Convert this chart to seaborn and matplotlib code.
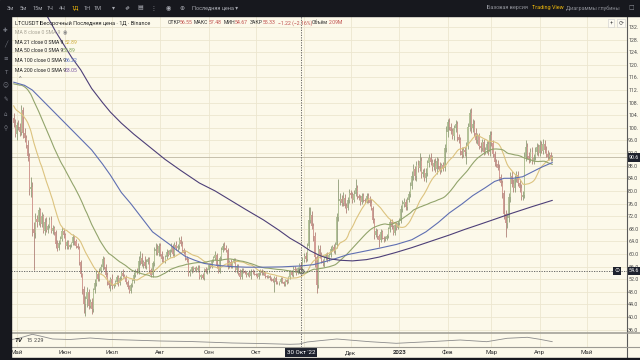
import matplotlib
matplotlib.use("Agg")
import matplotlib.pyplot as plt
import matplotlib.transforms as mtransforms
from matplotlib.patches import Rectangle
from matplotlib.lines import Line2D
import numpy as np
import pandas as pd
import seaborn as sns

# ---------------- data ----------------
# closes before the visible window (11 Mar - 28 Apr 2022), only used for MA 21 / MA 50
prior_closes = [104, 105, 106, 104, 106, 109, 112, 114, 116, 117, 118, 121, 124, 123, 125, 126, 127, 130, 128, 126, 124,
                127, 128, 127, 130, 126, 116, 117, 115, 117, 113, 107, 108, 112, 109, 111, 110, 109, 106, 110, 109, 107,
                105, 104, 104, 104, 97, 101, 103]

# daily candles: (close, upper wick, lower wick)
apr_2022 = [(101.5, 1.6, 1.2), (98.0, 1.4, 0.9)]
may_2022 = [(101.0, 1.0, 2.0), (100.2, 1.5, 1.0), (98.6, 1.3, 1.1), (105.8, 1.4, 1.0), (98.3, 0.8, 1.5),
            (96.7, 1.6, 1.2), (94.6, 1.1, 0.9), (91.2, 1.4, 1.6), (80.5, 0.9, 1.8), (81.3, 3.2, 2.5),
            (68.0, 1.5, 2.2), (66.8, 2.1, 11.8), (71.2, 1.8, 1.6), (70.1, 1.2, 1.4), (73.8, 1.1, 1.0),
            (69.6, 0.8, 1.2), (71.9, 1.3, 0.9), (67.3, 0.9, 0.8), (70.2, 1.1, 1.3), (67.6, 1.5, 0.7),
            (68.8, 0.6, 0.8), (70.9, 0.9, 0.5), (67.4, 1.2, 0.6), (68.3, 0.8, 1.0), (66.9, 0.7, 0.9),
            (63.2, 0.6, 1.3), (62.0, 1.1, 1.2), (63.6, 0.7, 0.6), (64.8, 0.9, 0.5), (67.2, 1.2, 0.8),
            (65.9, 1.0, 0.9)]
jun_2022 = [(62.4, 0.8, 0.7), (63.8, 0.6, 0.9), (62.1, 0.7, 0.5), (62.9, 0.4, 0.6), (63.4, 0.5, 0.6),
            (65.3, 1.1, 0.5), (64.1, 0.7, 1.4), (62.6, 0.6, 0.8), (62.0, 0.9, 0.5), (57.4, 0.6, 0.9),
            (53.6, 0.7, 0.8), (48.9, 0.5, 1.6), (44.2, 0.9, 2.8), (45.6, 1.2, 4.0), (48.0, 1.5, 2.4),
            (43.5, 0.8, 0.9), (44.9, 0.9, 0.7), (42.5, 1.1, 1.4), (48.6, 0.7, 0.8), (50.8, 1.3, 1.1),
            (53.7, 1.2, 0.9), (52.1, 0.8, 0.6), (54.6, 0.9, 0.7), (55.9, 1.0, 0.8), (58.3, 1.2, 0.9),
            (55.8, 0.8, 0.7), (53.2, 1.0, 0.6), (51.0, 1.1, 0.8), (50.1, 0.6, 0.9), (52.2, 0.5, 1.7)]
jul_2022 = [(49.7, 1.3, 0.8), (50.3, 0.6, 0.5), (51.2, 0.5, 0.6), (52.6, 0.7, 0.8), (50.8, 0.8, 0.9),
            (52.4, 0.6, 0.7), (53.8, 0.7, 0.6), (53.1, 1.4, 0.5), (52.7, 0.6, 0.4), (51.2, 0.5, 0.6),
            (49.6, 0.6, 0.8), (48.4, 0.5, 0.7), (50.0, 0.9, 0.8), (51.3, 0.7, 0.6), (53.4, 0.8, 0.5),
            (54.6, 0.6, 0.7), (54.2, 0.9, 0.6), (57.9, 1.4, 0.7), (58.6, 2.2, 1.3), (56.8, 1.8, 0.6),
            (57.4, 0.8, 1.1), (56.2, 1.9, 0.5), (57.6, 0.7, 0.9), (58.5, 0.6, 0.7), (54.8, 0.5, 0.8),
            (53.3, 0.7, 0.6), (57.0, 0.8, 0.5), (60.9, 1.3, 0.9), (61.6, 1.9, 1.1), (60.2, 1.4, 0.6),
            (62.5, 1.0, 0.8)]
aug_2022 = [(60.1, 0.9, 0.7), (58.4, 0.8, 0.9), (57.8, 1.1, 0.5), (58.9, 0.7, 0.6), (60.7, 0.9, 0.5),
            (59.8, 0.6, 0.4), (61.2, 0.5, 0.8), (62.4, 1.2, 0.6), (60.1, 0.6, 0.7), (62.9, 0.8, 1.0),
            (61.8, 1.3, 0.5), (62.5, 0.7, 0.9), (64.3, 1.0, 0.8), (63.1, 1.5, 0.6), (61.2, 1.1, 0.7),
            (60.4, 0.7, 0.5), (58.7, 1.0, 0.6), (58.1, 0.6, 0.8), (53.9, 0.5, 1.0), (54.7, 0.6, 0.9),
            (55.8, 0.5, 0.6), (55.2, 0.4, 0.8), (55.4, 0.6, 0.5), (54.8, 0.7, 0.4), (55.6, 0.8, 0.5),
            (52.6, 0.9, 0.6), (53.2, 0.5, 0.7), (52.4, 0.6, 0.5), (55.1, 0.4, 0.6), (54.3, 0.8, 0.5),
            (54.8, 0.7, 0.6)]
sep_2022 = [(56.4, 0.6, 0.7), (56.0, 0.8, 0.4), (57.8, 0.5, 0.6), (58.6, 0.7, 0.5), (59.8, 1.1, 0.6),
            (56.2, 0.5, 0.8), (54.5, 0.6, 0.7), (58.6, 0.9, 0.5), (61.3, 1.0, 0.6), (62.4, 1.2, 0.8),
            (62.0, 1.4, 0.7), (61.1, 0.8, 0.6), (56.2, 0.7, 0.9), (57.5, 0.6, 0.7), (56.0, 0.8, 0.5),
            (57.4, 0.5, 0.6), (58.1, 0.6, 0.4), (55.0, 0.5, 0.7), (56.2, 0.6, 1.1), (53.9, 0.7, 0.5),
            (52.8, 1.3, 0.8), (54.9, 0.5, 0.6), (54.6, 0.6, 0.5), (54.0, 0.4, 0.4), (53.4, 0.5, 0.6),
            (53.9, 0.4, 0.5), (53.1, 1.1, 0.4), (54.6, 0.6, 0.9), (54.2, 0.5, 0.5), (53.7, 0.6, 0.4)]
oct_2022 = [(53.4, 0.4, 0.3), (52.7, 0.5, 0.4), (53.8, 0.4, 0.6), (54.6, 0.5, 0.4), (53.8, 0.6, 0.5),
            (54.2, 0.7, 0.4), (53.0, 0.4, 0.5), (52.7, 0.3, 0.4), (52.9, 0.4, 0.3), (52.4, 0.5, 0.6),
            (52.0, 0.4, 0.5), (51.5, 0.5, 0.4), (52.3, 0.6, 3.5), (51.0, 0.7, 0.5), (50.7, 0.4, 0.3),
            (51.2, 0.3, 0.4), (52.2, 0.4, 0.3), (51.1, 0.5, 0.4), (50.4, 0.4, 0.5), (51.6, 0.3, 0.6),
            (51.2, 0.5, 0.7), (52.6, 0.4, 0.3), (54.3, 0.5, 0.4), (53.4, 0.6, 0.5), (55.3, 0.9, 0.6),
            (54.8, 0.8, 0.5), (54.1, 0.6, 0.7), (55.4, 0.5, 0.6), (56.55, 0.7, 0.5), (55.33, 0.93, 0.66),
            (58.2, 0.9, 0.6)]
nov_2022 = [(59.4, 0.8, 0.7), (58.3, 1.2, 0.9), (62.6, 0.9, 0.6), (70.9, 4.1, 0.8), (72.4, 2.5, 1.2),
            (68.8, 1.3, 0.9), (65.6, 1.1, 1.4), (58.9, 1.5, 3.0), (50.2, 0.9, 2.6), (61.5, 1.2, 1.1),
            (59.8, 1.4, 1.0), (57.9, 0.9, 0.7), (57.2, 0.6, 0.9), (58.6, 0.9, 1.3), (59.7, 0.7, 0.6),
            (58.3, 0.8, 0.7), (59.6, 0.6, 0.5), (61.6, 0.9, 0.6), (62.2, 0.7, 0.8), (61.0, 0.8, 0.6),
            (62.8, 1.1, 0.9), (71.6, 1.4, 0.8), (76.8, 7.0, 1.1), (77.4, 1.8, 1.3), (76.2, 1.2, 1.0),
            (77.9, 1.6, 0.9), (75.3, 1.1, 0.8), (74.6, 0.9, 1.5), (77.2, 1.0, 0.7), (79.2, 1.3, 0.9)]
dec_2022 = [(78.6, 1.1, 0.8), (77.2, 0.9, 1.0), (79.0, 1.2, 0.6), (80.9, 3.0, 0.7), (78.3, 1.1, 0.9),
            (77.9, 0.8, 0.7), (76.4, 0.9, 1.0), (78.5, 0.7, 0.6), (77.1, 0.9, 0.5), (76.8, 0.6, 0.7),
            (78.4, 0.8, 0.5), (77.0, 0.9, 0.8), (76.2, 1.5, 0.9), (74.6, 1.2, 0.8), (70.8, 0.6, 0.9),
            (66.0, 0.7, 1.2), (67.3, 0.8, 0.6), (65.6, 0.7, 0.9), (64.3, 0.6, 2.0), (66.9, 0.9, 0.5),
            (65.2, 0.6, 0.6), (64.6, 0.5, 0.8), (64.9, 0.7, 0.4), (65.7, 0.6, 0.5), (67.8, 0.8, 0.6),
            (70.1, 1.0, 0.7), (68.4, 0.9, 0.6), (66.7, 0.7, 0.8), (69.2, 0.8, 0.6), (68.3, 0.9, 0.7),
            (69.8, 0.6, 0.5)]
jan_2023 = [(70.6, 0.8, 0.6), (74.3, 1.1, 0.7), (75.8, 1.3, 0.9), (76.4, 1.2, 1.0), (74.8, 0.9, 0.8),
            (77.2, 1.0, 0.7), (78.9, 1.2, 0.6), (81.4, 1.4, 0.8), (84.8, 1.6, 0.9), (86.9, 1.5, 1.2),
            (84.6, 1.1, 1.0), (88.3, 1.3, 1.4), (87.2, 1.6, 1.1), (89.4, 2.6, 1.0), (85.3, 1.2, 1.3),
            (86.0, 1.0, 0.9), (84.2, 1.3, 1.1), (85.6, 1.8, 1.5), (88.7, 1.2, 0.9), (90.4, 1.3, 1.0),
            (89.1, 1.5, 0.8), (87.6, 1.0, 1.2), (88.9, 1.1, 0.9), (86.8, 1.4, 0.7), (89.5, 1.2, 1.3),
            (87.9, 1.0, 0.8), (86.6, 1.3, 1.1), (88.1, 0.9, 0.7), (87.2, 1.2, 0.8), (93.6, 1.4, 1.0),
            (98.7, 1.8, 1.2)]
feb_2023 = [(101.8, 0.9, 1.5), (100.4, 1.4, 1.2), (98.9, 1.3, 1.0), (97.3, 1.1, 0.9), (99.8, 1.2, 1.0),
            (101.2, 1.4, 1.1), (97.0, 1.0, 1.3), (96.1, 1.2, 1.0), (92.8, 1.0, 1.4), (91.5, 1.1, 1.2),
            (93.0, 0.9, 0.8), (92.2, 0.8, 1.0), (94.3, 1.1, 3.7), (100.2, 1.5, 1.0), (104.6, 1.3, 1.2),
            (99.8, 1.8, 1.4), (101.2, 1.6, 1.1), (98.4, 1.2, 0.9), (96.1, 1.4, 1.0), (97.3, 1.0, 1.3),
            (94.2, 1.1, 1.0), (93.5, 1.3, 1.2), (95.4, 1.0, 0.9), (92.4, 1.2, 1.1), (93.1, 0.9, 0.8),
            (94.8, 1.1, 1.0), (92.2, 1.0, 0.9), (97.6, 1.4, 1.2)]
mar_2023 = [(95.2, 1.3, 1.1), (91.8, 1.1, 1.2), (89.1, 1.0, 1.3), (88.6, 0.9, 1.0), (87.4, 1.1, 0.9),
            (84.3, 1.0, 1.2), (82.5, 1.2, 1.0), (79.3, 0.9, 1.4), (72.6, 1.1, 1.6), (69.8, 1.4, 4.4),
            (71.4, 1.6, 1.5), (78.0, 1.2, 1.3), (84.6, 1.3, 1.5), (82.3, 1.6, 1.2), (80.8, 1.4, 1.3),
            (83.9, 1.2, 1.0), (84.9, 1.5, 1.1), (82.6, 1.3, 1.0), (80.9, 1.1, 1.2), (78.2, 1.2, 1.0),
            (78.6, 1.5, 1.1), (90.8, 1.6, 1.0), (93.9, 2.1, 1.4), (91.2, 1.3, 1.2), (90.1, 1.0, 1.1),
            (92.4, 1.2, 0.9), (89.6, 1.4, 1.2), (90.8, 1.0, 1.1), (92.5, 1.3, 1.0), (93.8, 1.5, 1.2),
            (92.1, 1.2, 1.0)]
apr_2023 = [(94.6, 1.4, 1.1), (92.8, 1.1, 0.9), (94.9, 1.5, 1.0), (93.1, 1.2, 1.1), (91.8, 1.0, 0.9),
            (90.7, 1.1, 0.8), (91.5, 0.9, 0.8), (90.2, 1.0, 0.7), (90.6, 0.8, 0.6)]
first_day = -2  # 29 Apr 2022, day 0 = 1 May 2022

# MA 100 / MA 200 (day, value)
ma100_day = [-2, 5, 10, 15, 20, 25, 30, 35, 40, 48, 55, 60, 67, 73, 80, 87, 93, 98, 103, 108, 114, 120, 128,
             137, 147, 158, 170, 182, 190, 197, 204, 212, 222, 232, 243, 253, 262, 270, 277, 285, 292, 300,
             306, 312, 318, 324, 330, 336, 343]
ma100_val = [114.5, 113.5, 112.0, 109.5, 107.0, 104.5, 102.0, 99.5, 97.0, 93.0, 88.5, 85.0, 79.5, 76.0, 71.5,
             67.0, 64.8, 63.0, 61.0, 59.2, 58.0, 57.0, 56.4, 56.0, 55.8, 55.8, 55.9, 56.2, 56.6, 57.5, 58.5,
             59.8, 60.8, 61.8, 63.0, 64.5, 67.0, 70.0, 73.0, 75.8, 78.5, 81.0, 83.0, 84.0, 84.0, 84.5, 86.0,
             87.5, 89.0]
ma200_day = [-2, 5, 10, 15, 20, 25, 30, 35, 41, 48, 55, 60, 67, 75, 85, 95, 105, 117, 127, 137, 147, 158, 168,
             175, 182, 188, 194, 200, 207, 215, 224, 232, 243, 253, 265, 277, 287, 296, 306, 317, 330, 343]
ma200_val = [152, 147, 143.5, 139, 135, 130.5, 126.5, 122.5, 118.4, 112.5, 108, 105, 101.5, 98, 94, 90, 86.5,
             82.5, 80, 77, 74, 70.8, 67.5, 65, 63.0, 61.0, 59.5, 58.5, 58.0, 57.8, 58.2, 59.0, 60.5, 62.0,
             64.0, 66.0, 67.8, 69.3, 71.0, 72.9, 75.0, 77.0]

# lower pane oscillator (day, value)
osc_day = [-3, 2, 10, 15, 23, 34, 47, 60, 72, 92, 111, 138, 156, 175, 181, 186, 194, 205, 226, 243, 269, 284,
           301, 314, 327, 335, 343]
osc_val = [7.5, 9, 12.7, 11, 8, 7.5, 9, 7.5, 7, 6, 5.5, 4, 3.5, 2.7, 3, 5, 6.3, 8, 5.3, 3.7, 5.7, 7, 5.3,
           8.7, 9.7, 7.7, 5.3]

price_ticks = list(range(36, 133, 4))
# price scale labels as far as they are visible at the right edge of the screenshot
price_tick_text = [f"{v:.2f}"[:4] for v in price_ticks]
month_day = [0, 31, 61, 92, 123, 153, 214, 245, 276, 304, 335, 365]
month_lab = ["Май", "Июн", "Июл", "Авг", "Сен", "Окт", "Дек", "2023", "Фев", "Мар", "Апр", "Май"]
grid_day = [0, 31, 61, 92, 123, 153, 184, 214, 245, 276, 304, 335, 365]

# ---------------- build frame ----------------
rows = [r for m in (apr_2022, may_2022, jun_2022, jul_2022, aug_2022, sep_2022, oct_2022, nov_2022,
                    dec_2022, jan_2023, feb_2023, mar_2023, apr_2023) for r in m]
close = np.array([r[0] for r in rows])
wup = np.array([r[1] for r in rows])
wdn = np.array([r[2] for r in rows])
day = np.arange(first_day, first_day + len(close))
open_ = np.concatenate([[prior_closes[-1]], close[:-1]])
high = np.maximum(open_, close) + wup
low = np.minimum(open_, close) - wdn
allc = pd.Series(np.concatenate([prior_closes, close]))
ma21 = allc.rolling(21).mean().values[len(prior_closes):]
ma50 = allc.rolling(50).mean().values[len(prior_closes):]
df = pd.DataFrame(dict(day=day, open=open_, close=close, high=high, low=low, ma21=ma21, ma50=ma50))

# ---------------- style ----------------
W, H = 640, 360
BG = "#fcf9ea"
GRID = "#ece6cf"
DARK = "#17181e"
UP, DOWN = "#b3c297", "#d39d95"
UPW, DOWNW = "#84936d", "#a9776f"
C21, C50, C100, C200 = "#dcc37f", "#92a46c", "#5f6fb2", "#4d3f78"

sns.set_theme(style="white")
plt.rcParams["font.family"] = ["Roboto", "DejaVu Sans"]

fig = plt.figure(figsize=(6.4, 3.6), dpi=100)
fig.patch.set_facecolor(BG)


def fx(px):
    return px / W


def fy(py):
    return 1 - py / H


ax = fig.add_axes([fx(11), fy(333), (627 - 11) / W, (333 - 16) / H])
ax2 = fig.add_axes([fx(11), fy(347), (627 - 11) / W, (347 - 333) / H])
XL = (-3.65, 390.8)
for a in (ax, ax2):
    a.set_facecolor(BG)
    for s in a.spines.values():
        s.set_visible(False)
    a.set_xlim(XL)
    a.set_xticks(grid_day)
    a.set_xticklabels([])
    a.tick_params(axis="x", length=0)
ax.set_ylim(34.92, 135.49)
ax.set_yticks(price_ticks)
ax.grid(True, color=GRID, linewidth=0.6)
ax.yaxis.tick_right()
ax.set_yticklabels(price_tick_text)
ax.tick_params(axis="y", length=0, pad=0.9, labelsize=3.8, labelcolor="#4a4a4a")
ax2.set_ylim(0, 14)
ax2.set_yticks([])
ax2.grid(True, axis="x", color=GRID, linewidth=0.6)

# candles
is_up = df["close"] >= df["open"]
ax.vlines(df["day"], df["low"], df["high"], colors=np.where(is_up, UPW, DOWNW), linewidth=0.55, zorder=3)
body_lo = np.minimum(df["open"], df["close"])
body_h = np.maximum(np.abs(df["close"] - df["open"]), 0.2)
ax.bar(df["day"], body_h, bottom=body_lo, width=0.7, color=np.where(is_up, UP, DOWN), linewidth=0, zorder=4)

# moving averages
sns.lineplot(x=df["day"], y=df["ma21"], ax=ax, color=C21, linewidth=0.8, zorder=5)
sns.lineplot(x=df["day"], y=df["ma50"], ax=ax, color=C50, linewidth=0.8, zorder=5)
sns.lineplot(x=ma100_day, y=ma100_val, ax=ax, color=C100, linewidth=0.8, zorder=5)
sns.lineplot(x=ma200_day, y=ma200_val, ax=ax, color=C200, linewidth=0.8, zorder=5)
ax.set_xlabel("")
ax.set_ylabel("")

# price line + crosshair
ax.axhline(90.6, color="#bdb7a2", linewidth=0.6, zorder=2)
ax.axhline(54.6, color="#555555", linewidth=0.6, linestyle=(0, (1.5, 1.5)), zorder=6)
for a in (ax, ax2):
    a.axvline(182, color="#555555", linewidth=0.6, linestyle=(0, (1.5, 1.5)), zorder=6)
ax.plot([182], [54.6], marker="o", markersize=3.5, markerfacecolor="none", markeredgecolor="#555555",
        markeredgewidth=0.6, zorder=7)

# oscillator
sns.lineplot(x=osc_day, y=osc_val, ax=ax2, color="#8c8c8c", linewidth=0.6)
ax2.set_xlabel("")
ax2.set_ylabel("")

# price tags on the right axis
bt = mtransforms.blended_transform_factory(ax.transAxes, ax.transData)
for v, s in ((90.6, "90.6"), (54.6, "54.6")):
    ax.text(1.0025, v, s, transform=bt, ha="left", va="center", fontsize=3.8, color="white", zorder=10,
            clip_on=False, bbox=dict(boxstyle="square,pad=0.3", facecolor="#1e222d", edgecolor="none"))
ax.text(0.984, 54.6, "⊙", transform=bt, ha="center", va="center", fontsize=4.3, color="white",
        family=["DejaVu Sans"], zorder=10,
        bbox=dict(boxstyle="square,pad=0.2", facecolor="#1e222d", edgecolor="none"))

# time axis labels
tb = mtransforms.blended_transform_factory(ax2.transData, ax2.transAxes)
for d, lab in zip(month_day, month_lab):
    ax2.text(d, -0.36, lab, transform=tb, ha="center", va="center", fontsize=4.4, color="#333333",
             fontweight="bold" if lab == "2023" else "normal", clip_on=False)
ax2.text(182, -0.36, "30 Окт '22", transform=tb, ha="center", va="center", fontsize=4.4, color="white",
         clip_on=False, zorder=10,
         bbox=dict(boxstyle="square,pad=0.35", facecolor="#1e222d", edgecolor="none"))
fig.text(fx(15), fy(340), "TV", ha="left", va="center", fontsize=4.6, color="#222222",
         fontweight="bold", style="italic", zorder=16)
fig.text(fx(27), fy(340.5), "15", ha="left", va="center", fontsize=3.9, color="#444444", zorder=16)
fig.text(fx(34), fy(340.5), "2.29", ha="left", va="center", fontsize=3.9, color="#444444", zorder=16)

# frame pieces
fig.add_artist(Rectangle((0, fy(16)), 1, 16 / H, transform=fig.transFigure, color=DARK, zorder=20))
fig.add_artist(Rectangle((0, 0), fx(11), fy(16), transform=fig.transFigure, color=DARK, zorder=20))
fig.add_artist(Rectangle((0, 0), 1, 2.5 / H, transform=fig.transFigure, color=DARK, zorder=20))
fig.add_artist(Line2D([fx(627), fx(627)], [fy(16), fy(358)], transform=fig.transFigure, color="#5a5a5a",
                      linewidth=0.8, zorder=15))
fig.add_artist(Line2D([fx(11), fx(640)], [fy(333), fy(333)], transform=fig.transFigure, color="#9c9a92",
                      linewidth=1.1, zorder=15))
fig.add_artist(Line2D([fx(11), fx(640)], [fy(347), fy(347)], transform=fig.transFigure, color="#9c9a92",
                      linewidth=0.8, zorder=15))

# toolbar
TFS = 4.0
tool_items = [(10, "3м"), (23, "5м"), (38, "15м"), (50, "1Ч"), (62, "4Ч"), (75, "1Д"), (87, "1Н"), (98, "1М")]
for x, s in tool_items:
    fig.text(fx(x), fy(8), s, ha="center", va="center", fontsize=TFS, zorder=21,
             color="#f0b90b" if s == "1Д" else "#a9abb3")
for x, s in ((113, "▾"), (127, "#"), (140, "▤"), (153, "⋮"), (168, "◉"), (182, "⊕")):
    fig.text(fx(x), fy(8), s, ha="center", va="center", fontsize=4.3, color="#a9abb3", zorder=21,
             family=["DejaVu Sans"])
fig.text(fx(192), fy(8), "Последняя цена ▾", ha="left", va="center", fontsize=TFS, color="#a9abb3",
         zorder=21)
fig.text(fx(487), fy(8), "Базовая версия", ha="left", va="center", fontsize=TFS, color="#8d8f97", zorder=21)
fig.text(fx(532), fy(8), "Trading View", ha="left", va="center", fontsize=TFS, color="#f0b90b", zorder=21)
fig.text(fx(566), fy(8), "Диаграммы глубины", ha="left", va="center", fontsize=TFS, color="#8d8f97",
         zorder=21)
fig.text(fx(631), fy(8), "□", ha="center", va="center", fontsize=4.2, color="#8d8f97", zorder=21,
         family=["DejaVu Sans"])
for yy, s in ((30, "✚"), (45, "╱"), (58, "≡"), (72, "T"), (86, "☺"), (100, "✎"), (114, "⌂"), (128, "⚲")):
    fig.text(fx(5.5), fy(yy), s, ha="center", va="center", fontsize=4, color="#7d808a", zorder=21,
             family=["DejaVu Sans"])

# legend
FS1 = 4.0
FS2 = 3.7
fig.text(fx(15), fy(23), "LTCUSDT Бессрочный Последняя цена · 1Д · Binance", ha="left", va="center",
         fontsize=FS1, color="#222222")
for x, s, c in ((168, "ОТКР", "#333333"), (180, "56.55", "#c0504d"), (194, "МАКС", "#333333"),
                (209, "57.48", "#c0504d"), (224, "МИН", "#333333"), (235, "54.67", "#c0504d"),
                (250, "ЗАКР", "#333333"), (263, "55.33", "#c0504d"), (278, "−1.22 (−2.16%)", "#c0504d"),
                (312, "Объём", "#333333"), (329, "2.09M", "#c0504d")):
    fig.text(fx(x), fy(23), s, ha="left", va="center", fontsize=FS2, color=c)
fig.text(fx(15), fy(33), "MA 8 close 0 SMA 9", ha="left", va="center", fontsize=FS2, color="#a8a496")
fig.text(fx(63), fy(33), "◉", ha="left", va="center", fontsize=FS2, color="#888888", family=["DejaVu Sans"])
for yy, name, val, c in ((42, "MA 21 close 0 SMA 9", "52.89", "#cfae3f"),
                         (51, "MA 50 close 0 SMA 9", "53.89", "#7fa35a"),
                         (60, "MA 100 close 0 SMA 9", "56.22", "#5b74c6"),
                         (70, "MA 200 close 0 SMA 9", "63.05", "#7a56a3")):
    fig.text(fx(15), fy(yy), name, ha="left", va="center", fontsize=FS2, color="#222222")
    fig.text(fx(63 if ("MA 2 " in name[:5] or "MA 5" in name) else 65), fy(yy), val, ha="left",
             va="center", fontsize=FS2, color=c)
fig.text(fx(20), fy(80), "⌃", ha="center", va="center", fontsize=4, color="#555555", family=["DejaVu Sans"])
fig.text(fx(611), fy(23), "+", ha="center", va="center", fontsize=4.3, color="#555555",
         bbox=dict(boxstyle="square,pad=0.2", facecolor="#fdfbf2", edgecolor="#cccccc", linewidth=0.4))
fig.text(fx(621), fy(23), "⟳", ha="center", va="center", fontsize=4.3, color="#555555", family=["DejaVu Sans"],
         bbox=dict(boxstyle="square,pad=0.2", facecolor="#fdfbf2", edgecolor="#cccccc", linewidth=0.4))

fig.savefig("out.png", dpi=100, facecolor=fig.get_facecolor())
